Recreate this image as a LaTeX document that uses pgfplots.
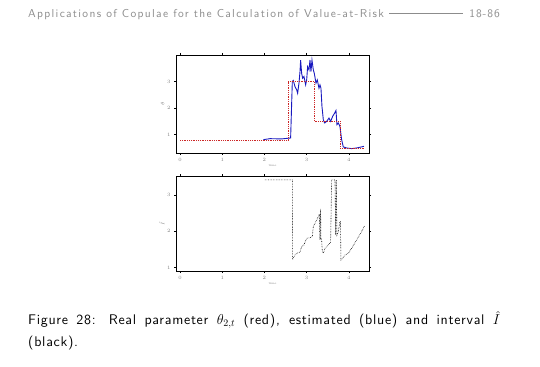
\documentclass[border=0pt]{standalone}
\usepackage{fontspec}
\setsansfont{lmsans10-regular.otf}[BoldFont=lmsans10-bold.otf]
\usepackage{pgfplots}
\pgfplotsset{compat=1.18}
\definecolor{hdr}{gray}{0.55}
\definecolor{redline}{rgb}{0.8,0.15,0.15}
\definecolor{blueline}{rgb}{0.1,0.1,0.75}
\begin{document}
\begin{tikzpicture}[x=1bp,y=1bp]
\useasboundingbox (0,0) rectangle (540,366);
\pgfplotsset{
  panel/.style={
    scale only axis,
    anchor=south west,
    xmin=-0.095, xmax=4.48,
    xtick={0,1,2,3,4},
    axis line style={line width=0.6pt},
    tick style={line width=0.4pt, black},
    tick align=outside,
    major tick length=2bp,
    tick label style={font=\fontsize{3}{3}\selectfont, color=gray},
    label style={font=\fontsize{3}{3}\selectfont, color=gray},
    xticklabel pos=lower, yticklabel pos=left,
    xtick pos=both, ytick pos=both,
    xlabel={time},
    xlabel style={yshift=4bp},
    ylabel style={yshift=-4bp},
  }
}
% header
\node[anchor=base west, inner sep=0, font=\sffamily\addfontfeatures{LetterSpace=11.5}\fontsize{11.5}{13}\selectfont, text=hdr] at (28,349) {Applications of Copulae for the Calculation of Value-at-Risk};
\draw[hdr, line width=0.5pt] (389,353) -- (463,353);
\node[anchor=base east, inner sep=0, font=\sffamily\addfontfeatures{LetterSpace=8}\fontsize{11.5}{13}\selectfont, text=hdr] at (500,349) {18-86};
% top panel
\begin{axis}[panel, at={(176bp,213bp)}, width=193bp, height=98bp,
  ymin=0.31, ymax=4.0, ytick={1,2,3}, ylabel={$\theta$}]
\addplot[blueline, line width=0.9pt] coordinates {
(1.975,0.8125)(2.133,0.85)(2.40,0.84)(2.622,0.875)(2.662,3.0)(2.686,3.04)(2.725,2.81)(2.765,2.69)(2.788,2.56)(2.820,2.94)(2.844,3.375)(2.859,3.81)(2.883,3.31)(2.907,3.125)(2.938,3.19)(2.978,2.875)(3.002,3.06)(3.025,3.56)(3.057,3.44)(3.081,3.81)(3.104,3.375)(3.128,3.81)(3.160,3.44)(3.183,3.31)(3.223,2.94)(3.254,3.06)(3.294,2.75)(3.318,2.875)(3.341,2.75)(3.365,2.06)(3.397,1.56)(3.428,1.44)(3.476,1.5)(3.531,1.625)(3.570,1.5)(3.618,1.69)(3.657,1.79)(3.697,1.91)(3.720,1.375)(3.752,1.44)(3.791,1.31)(3.831,0.8125)(3.870,0.54)(3.949,0.5)(4.068,0.475)(4.186,0.5)(4.305,0.54)(4.360,0.5625)
};
\addplot[redline, densely dotted, line width=0.8pt, const plot] coordinates {
(0,0.7875)(2.57,3.0)(3.18,1.5)(3.79,0.5)(4.36,0.5)
};
\end{axis}
% bottom panel
\begin{axis}[panel, at={(176bp,95bp)}, width=193bp, height=95bp,
  ymin=0.908, ymax=3.52, ytick={1,2,3}, ylabel={$\hat I$}]
\addplot[black, densely dotted, line width=0.6pt] coordinates {
(2.014,3.413)(2.662,3.413)(2.670,1.229)(2.725,1.349)(2.765,1.394)(2.844,1.422)(2.883,1.578)(2.938,1.624)(3.002,1.807)(3.081,1.826)(3.136,1.853)(3.160,2.128)(3.239,2.312)(3.302,2.468)(3.318,1.761)(3.326,2.50)(3.333,2.541)(3.341,1.80)(3.357,1.761)(3.373,1.459)(3.397,1.394)(3.436,1.532)(3.515,1.624)(3.570,1.697)(3.594,3.413)(3.673,3.413)(3.690,1.899)(3.705,3.413)(3.720,1.899)(3.752,1.991)(3.791,2.266)(3.803,2.266)(3.815,1.211)(3.855,1.257)(3.910,1.349)(3.989,1.394)(4.068,1.532)(4.186,1.761)(4.305,1.991)(4.376,2.156)
};
\end{axis}
% caption
\node[anchor=north west, inner sep=0, text width=472bp, align=justify, font=\sffamily\addfontfeatures{LetterSpace=5}\fontsize{14}{21.5}\selectfont] at (28,55) {Figure 28: Real parameter $\theta_{2,t}$ (red), estimated (blue) and interval $\hat{I}$\linebreak (black).};
\end{tikzpicture}
\end{document}
